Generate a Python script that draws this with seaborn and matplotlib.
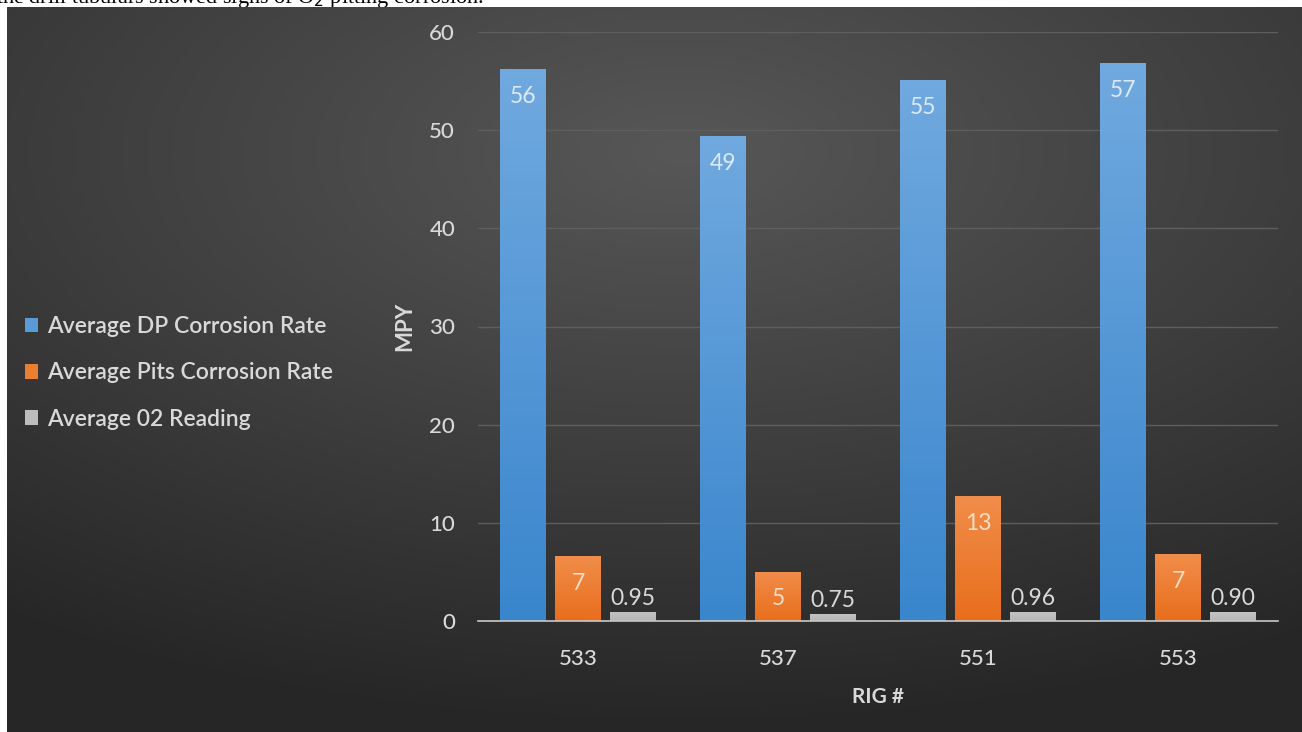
import numpy as np
import pandas as pd
import matplotlib
matplotlib.use("Agg")
import matplotlib.pyplot as plt
from matplotlib.colors import LinearSegmentedColormap
from matplotlib.patches import Patch
import seaborn as sns

# data
rigs = ["533", "537", "551", "553"]
dp_rate = [56.2, 49.4, 55.1, 56.8]
pits_rate = [6.6, 5.0, 12.7, 6.8]
o2_reading = [0.95, 0.75, 0.96, 0.90]
series = ["Average DP Corrosion Rate", "Average Pits Corrosion Rate", "Average 02 Reading"]
yticks = [0, 10, 20, 30, 40, 50, 60]

df = pd.DataFrame({
    "rig": rigs * 3,
    "value": dp_rate + pits_rate + o2_reading,
    "series": [series[0]] * 4 + [series[1]] * 4 + [series[2]] * 4,
})

colors = ["#5b9bd5", "#ed7d31", "#bdbdbd"]
grad = {  # top, bottom
    series[0]: ("#70a9df", "#3a86cd"),
    series[1]: ("#f18d4a", "#e86e1c"),
    series[2]: ("#c4c4c4", "#b6b6b6"),
}
txt = "#d9d9d9"

sns.set_theme(style="white")
plt.rcParams["font.family"] = ["Lato", "DejaVu Sans"]

fig = plt.figure(figsize=(13.02, 7.32), dpi=100)
W, H = 1302, 732

# cut-off text line from the document above the chart
fig.text(-0.003, 1 - 3 / H, "the drill tubulars showed signs of O$_2$ pitting corrosion.",
         family="Liberation Serif", fontsize=16, color="black", va="baseline", ha="left", zorder=-1)

# dark background panel with radial gradient
bg = fig.add_axes([7 / W, 0, 1 - 7 / W, (H - 7) / H], zorder=0)
yy, xx = np.mgrid[0:1:300j, 0:1:500j]
r = np.sqrt(((xx - 0.52) / 0.9) ** 2 + ((yy - 0.2) / 0.8) ** 2)
bg_cmap = LinearSegmentedColormap.from_list("bg", ["#575757", "#3f3f3f", "#262626"])
bg.imshow(np.clip(r, 0, 1), cmap=bg_cmap, vmin=0, vmax=1, aspect="auto", extent=[0, 1, 0, 1], origin="upper")
bg.set_axis_off()

ax = fig.add_axes([478 / W, (H - 621) / H, 800 / W, 589 / H], zorder=1)
ax.patch.set_alpha(0)

sns.barplot(data=df, x="rig", y="value", hue="series", palette=colors,
            width=0.825, gap=0.164, legend=False, ax=ax, saturation=1)

# gradient fill on each bar
for cont, name in zip(ax.containers, series):
    top, bot = grad[name]
    cm = LinearSegmentedColormap.from_list(name, [top, bot])
    for p in cont.patches:
        x0, y0 = p.get_x(), p.get_y()
        w, h = p.get_width(), p.get_height()
        p.set_facecolor("none")
        p.set_edgecolor("none")
        im = ax.imshow(np.linspace(0, 1, 64).reshape(-1, 1), cmap=cm, aspect="auto",
                       extent=[x0, x0 + w, y0, y0 + h], origin="upper", zorder=2)
        im.set_clip_path(p)

ax.set_xlim(-0.5, 3.5)
ax.set_ylim(0, 60)
ax.set_yticks(yticks)

# data labels
fs = 16.5
ax.bar_label(ax.containers[0], labels=[f"{v:.0f}" for v in dp_rate], padding=-27,
             color="#dce9f7", fontsize=fs, zorder=3)
ax.bar_label(ax.containers[1], labels=[f"{v:.0f}" for v in pits_rate], padding=-27,
             color="#fbdcc6", fontsize=fs, zorder=3)
ax.bar_label(ax.containers[2], labels=[f"{v:.2f}" for v in o2_reading], padding=2,
             color=txt, fontsize=fs, zorder=3)

ax.grid(axis="y", color="#5e5e5e", linewidth=1)
ax.grid(axis="x", visible=False)
ax.set_axisbelow(True)
for s in ["top", "right", "left"]:
    ax.spines[s].set_visible(False)
ax.spines["bottom"].set_color("#c8c8c8")
ax.spines["bottom"].set_linewidth(1.2)
ax.spines["bottom"].set_zorder(4)

ax.tick_params(axis="both", colors=txt, labelsize=16, length=0)
ax.tick_params(axis="y", pad=16.5)
ax.tick_params(axis="x", pad=20)
for lab in ax.get_xticklabels() + ax.get_yticklabels():
    lab.set_fontweight("medium")
ax.set_xlabel("RIG #", color=txt, fontsize=15, fontweight="bold", labelpad=13)
ax.set_ylabel("MPY", color=txt, fontsize=16, fontweight="bold", labelpad=10)

handles = [Patch(facecolor=c, edgecolor="none") for c in colors]
leg = fig.legend(handles, series, loc="center left", bbox_to_anchor=(25 / W, (H - 373) / H),
                 frameon=False, handlelength=0.58, handleheight=0.58, borderpad=0, borderaxespad=0,
                 handletextpad=0.4, labelspacing=1.1, labelcolor=txt,
                 prop={"weight": "semibold", "size": 16.5})

fig.savefig("out.png", dpi=100)
